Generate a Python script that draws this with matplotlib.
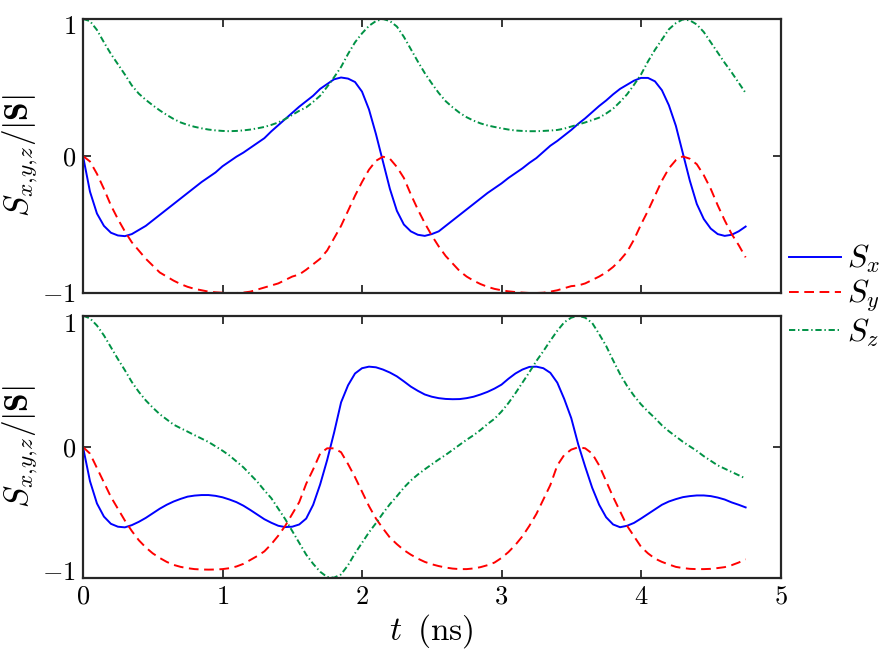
import matplotlib
matplotlib.use('Agg')
import matplotlib.pyplot as plt
import matplotlib.transforms as mtransforms
import numpy as np

plt.rcParams['mathtext.fontset'] = 'cm'
plt.rcParams['font.family'] = 'serif'
plt.rcParams['font.serif'] = ['cmr10', 'DejaVu Serif']
plt.rcParams['lines.scale_dashes'] = False

# time samples (ns)
t = np.linspace(0, 4.75, 96)

# upper panel
sx_top = [0.00, -0.26, -0.42, -0.51, -0.56, -0.58, -0.585, -0.57, -0.54, -0.51,
          -0.47, -0.43, -0.39, -0.35, -0.31, -0.27, -0.23, -0.19, -0.155, -0.12,
          -0.075, -0.04, -0.005, 0.025, 0.06, 0.095, 0.13, 0.18, 0.225, 0.27,
          0.315, 0.36, 0.40, 0.44, 0.49, 0.525, 0.56, 0.573, 0.565, 0.54,
          0.47, 0.34, 0.16, -0.04, -0.24, -0.40, -0.50, -0.55, -0.575, -0.583,
          -0.57, -0.55, -0.51, -0.47, -0.43, -0.39, -0.35, -0.31, -0.27, -0.235,
          -0.20, -0.16, -0.125, -0.09, -0.05, -0.015, 0.03, 0.075, 0.11, 0.15,
          0.19, 0.235, 0.275, 0.32, 0.365, 0.405, 0.45, 0.49, 0.52, 0.55,
          0.57, 0.57, 0.545, 0.48, 0.37, 0.22, 0.02, -0.18, -0.35, -0.46,
          -0.53, -0.57, -0.583, -0.575, -0.55, -0.515]
sy_top = [0.00, -0.04, -0.13, -0.24, -0.36, -0.46, -0.55, -0.63, -0.69, -0.75,
          -0.80, -0.85, -0.88, -0.91, -0.935, -0.955, -0.97, -0.98, -0.99, -0.995,
          -0.998, -1.0, -1.0, -0.997, -0.99, -0.975, -0.96, -0.945, -0.93, -0.905,
          -0.88, -0.865, -0.83, -0.79, -0.75, -0.69, -0.60, -0.51, -0.40, -0.29,
          -0.19, -0.10, -0.035, -0.005, -0.02, -0.08, -0.16, -0.28, -0.39, -0.49,
          -0.58, -0.66, -0.73, -0.785, -0.84, -0.88, -0.91, -0.935, -0.955, -0.97,
          -0.98, -0.988, -0.993, -0.997, -1.0, -1.0, -0.998, -0.99, -0.98, -0.965,
          -0.95, -0.945, -0.93, -0.905, -0.88, -0.85, -0.81, -0.76, -0.70, -0.61,
          -0.50, -0.40, -0.29, -0.18, -0.09, -0.03, -0.003, -0.02, -0.06, -0.14,
          -0.24, -0.36, -0.47, -0.57, -0.65, -0.74]
sz_top = [1.00, 0.985, 0.92, 0.83, 0.745, 0.67, 0.595, 0.515, 0.455, 0.41,
          0.37, 0.333, 0.30, 0.27, 0.245, 0.227, 0.213, 0.202, 0.193, 0.187,
          0.183, 0.181, 0.183, 0.187, 0.193, 0.202, 0.212, 0.227, 0.245, 0.27,
          0.30, 0.33, 0.355, 0.395, 0.44, 0.505, 0.575, 0.65, 0.745, 0.83,
          0.895, 0.95, 0.985, 1.00, 0.985, 0.945, 0.87, 0.78, 0.69, 0.605,
          0.53, 0.46, 0.40, 0.355, 0.315, 0.283, 0.258, 0.238, 0.223, 0.212,
          0.202, 0.193, 0.186, 0.183, 0.181, 0.181, 0.183, 0.186, 0.19, 0.20,
          0.215, 0.23, 0.245, 0.262, 0.28, 0.31, 0.345, 0.395, 0.45, 0.52,
          0.595, 0.69, 0.775, 0.85, 0.925, 0.97, 0.997, 0.99, 0.96, 0.905,
          0.83, 0.755, 0.68, 0.61, 0.535, 0.46]

# lower panel
sx_bot = [0.00, -0.26, -0.43, -0.53, -0.585, -0.607, -0.612, -0.595, -0.57, -0.54,
          -0.505, -0.47, -0.44, -0.415, -0.395, -0.378, -0.37, -0.366, -0.366, -0.372,
          -0.383, -0.40, -0.42, -0.447, -0.48, -0.515, -0.55, -0.577, -0.60, -0.61,
          -0.607, -0.59, -0.545, -0.44, -0.285, -0.10, 0.11, 0.34, 0.47, 0.56,
          0.60, 0.612, 0.607, 0.59, 0.567, 0.538, 0.50, 0.46, 0.428, 0.40,
          0.383, 0.372, 0.366, 0.364, 0.365, 0.372, 0.383, 0.40, 0.42, 0.445,
          0.475, 0.52, 0.56, 0.59, 0.61, 0.612, 0.60, 0.565, 0.49, 0.365,
          0.22, 0.02, -0.15, -0.31, -0.44, -0.535, -0.59, -0.611, -0.60, -0.578,
          -0.545, -0.51, -0.475, -0.44, -0.415, -0.397, -0.382, -0.374, -0.369, -0.369,
          -0.374, -0.385, -0.40, -0.422, -0.44, -0.46]
sy_bot = [0.00, -0.05, -0.16, -0.27, -0.38, -0.47, -0.56, -0.64, -0.71, -0.765,
          -0.81, -0.845, -0.875, -0.898, -0.913, -0.923, -0.93, -0.933, -0.934, -0.933,
          -0.93, -0.923, -0.91, -0.89, -0.86, -0.83, -0.795, -0.74, -0.675, -0.60,
          -0.51, -0.42, -0.28, -0.17, -0.05, -0.01, -0.01, -0.04, -0.13, -0.23,
          -0.34, -0.45, -0.545, -0.62, -0.69, -0.74, -0.785, -0.82, -0.85, -0.875,
          -0.893, -0.907, -0.918, -0.926, -0.93, -0.93, -0.925, -0.915, -0.90, -0.88,
          -0.845, -0.80, -0.745, -0.68, -0.60, -0.51, -0.40, -0.29, -0.14, -0.06,
          -0.02, -0.002, -0.01, -0.05, -0.14, -0.26, -0.38, -0.49, -0.60, -0.68,
          -0.76, -0.81, -0.85, -0.875, -0.895, -0.913, -0.922, -0.928, -0.93, -0.93,
          -0.928, -0.922, -0.915, -0.90, -0.88, -0.855]
sz_bot = [1.00, 0.98, 0.925, 0.85, 0.76, 0.67, 0.585, 0.495, 0.42, 0.355,
          0.30, 0.25, 0.21, 0.17, 0.143, 0.117, 0.09, 0.064, 0.038, 0.005,
          -0.028, -0.065, -0.11, -0.155, -0.21, -0.265, -0.33, -0.39, -0.47, -0.55,
          -0.64, -0.73, -0.82, -0.89, -0.95, -0.99, -0.995, -0.97, -0.90, -0.81,
          -0.73, -0.65, -0.58, -0.505, -0.435, -0.375, -0.31, -0.255, -0.21, -0.17,
          -0.132, -0.095, -0.06, -0.022, 0.017, 0.055, 0.09, 0.13, 0.175, 0.215,
          0.27, 0.335, 0.41, 0.49, 0.57, 0.655, 0.73, 0.81, 0.885, 0.95,
          0.985, 1.00, 0.985, 0.945, 0.86, 0.77, 0.66, 0.555, 0.465, 0.39,
          0.325, 0.27, 0.22, 0.165, 0.12, 0.08, 0.04, 0.005, -0.03, -0.07,
          -0.105, -0.14, -0.165, -0.19, -0.215, -0.24]

labels = [r'$S_x$', r'$S_y$', r'$S_z$']
colors = ['#0000ff', '#ff0000', '#009245']
dashes = [None, (7, 4), (4.5, 2, 1, 2)]
lw = 1.4
frame_col = '#262626'

W, H = 884, 655
fig = plt.figure(figsize=(W / 100, H / 100), dpi=100)
ax1 = fig.add_axes([83 / W, 1 - 293 / H, 697.5 / W, 274 / H])
ax2 = fig.add_axes([83 / W, 1 - 578.3 / H, 697.5 / W, 262.6 / H])

panels = [(ax1, [sx_top, sy_top, sz_top]), (ax2, [sx_bot, sy_bot, sz_bot])]
for ax, series in panels:
    for y, c, d, lab in zip(series, colors, dashes, labels):
        ln, = ax.plot(t, y, color=c, lw=lw, label=lab)
        if d is not None:
            ln.set_dashes(d)
    ax.set_xlim(0, 5)
    ax.set_ylim(-1, 1)
    ax.set_xticks([0, 1, 2, 3, 4, 5])
    ax.set_xticklabels([r'$0$', r'$1$', r'$2$', r'$3$', r'$4$', r'$5$'])
    ax.set_yticks([-1, 0, 1])
    ax.set_yticklabels([r'$-1$', r'$0$', r'$1$'])
    ax.tick_params(direction='in', top=True, right=True, length=6, width=1.3,
                   color=frame_col, labelsize=19, pad=5)
    for sp in ax.spines.values():
        sp.set_linewidth(1.6)
        sp.set_color(frame_col)
    ax.set_ylabel(r'$S_{x{,}y{,}z}/|\mathbf{S}|$', fontsize=24)
    ax.yaxis.set_label_coords(-0.062, 0.5)

ax1.tick_params(labelbottom=False)
ax2.set_xlabel(r'$t\;\;(\mathrm{ns})$', fontsize=24, labelpad=2)


def nudge(ax, idx, dy):
    lab = ax.yaxis.get_major_ticks()[idx].label1
    lab.set_transform(lab.get_transform()
                      + mtransforms.ScaledTranslation(0, dy / 100, fig.dpi_scale_trans))


nudge(ax1, 2, -6)
nudge(ax2, 2, -7)
nudge(ax2, 0, 8)

handles = ax1.get_lines()
fig.legend(handles, labels, loc='center left',
           bbox_to_anchor=(789 / W, 1 - 296 / H), frameon=False,
           fontsize=23, handlelength=1.63, handletextpad=0.2,
           labelspacing=0.08, borderpad=0, borderaxespad=0)

fig.savefig('out.png', dpi=100)
